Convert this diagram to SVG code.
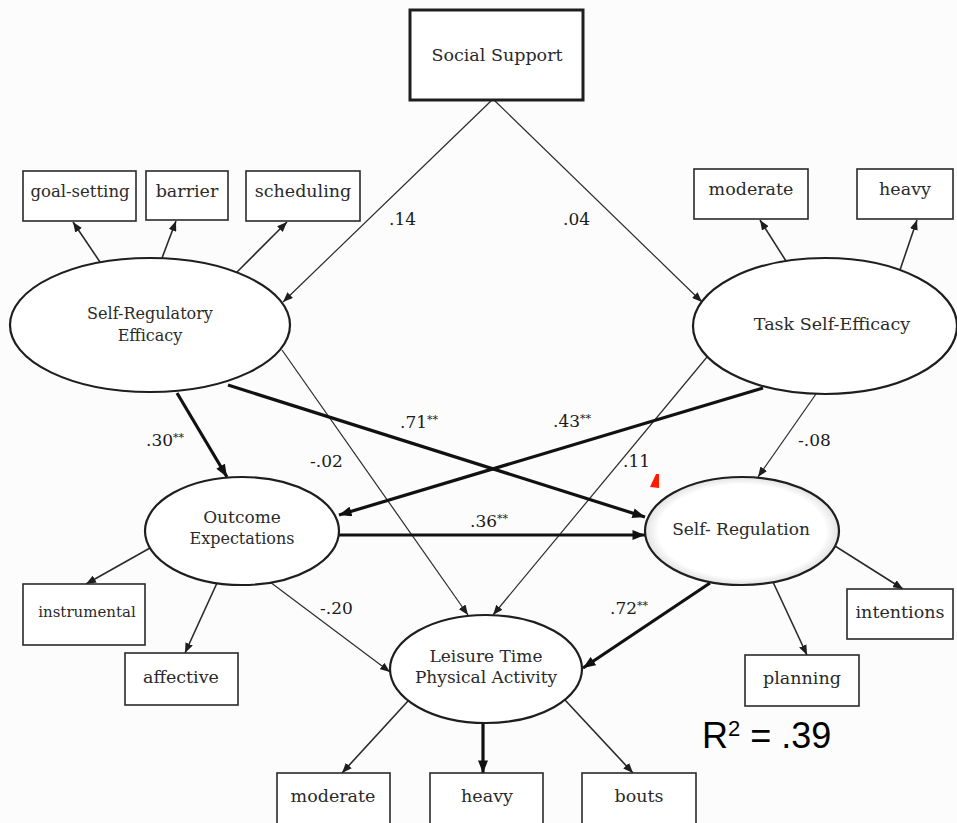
<svg xmlns="http://www.w3.org/2000/svg" width="957" height="823" viewBox="0 0 957 823">
<style>
  .box { fill: #ffffff; stroke: #2a2a2a; stroke-width: 1.6; }
  .ell { fill: #ffffff; stroke: #1e1e1e; stroke-width: 2.2; }
  .t { font-family: "DejaVu Serif", "Liberation Serif", serif; font-size: 17.5px; fill: #2a2a2a; text-anchor: middle; }
  .lbl { font-family: "DejaVu Serif", "Liberation Serif", serif; font-size: 17px; fill: #1a1a1a; }
  .thin { stroke: #2a2a2a; stroke-width: 1.2; fill: none; marker-end: url(#ah); }
  .ind { stroke: #2a2a2a; stroke-width: 1.6; fill: none; marker-end: url(#ah); }
  .thick { stroke: #111111; stroke-width: 3.2; fill: none; marker-end: url(#ahk); }
  .r2 { font-family: "Liberation Sans", Arial, sans-serif; font-size: 36px; fill: #000000; }
</style>
<defs>
  <marker id="ah" viewBox="0 0 10 8" refX="10" refY="4" markerWidth="10" markerHeight="8" markerUnits="userSpaceOnUse" orient="auto">
    <path d="M0,0 L10,4 L0,8 z" fill="#1e1e1e"/>
  </marker>
  <marker id="ahk" viewBox="0 0 10 8" refX="10" refY="4" markerWidth="13" markerHeight="10" markerUnits="userSpaceOnUse" orient="auto">
    <path d="M0,0 L10,4 L0,8 z" fill="#111111"/>
  </marker>
  <radialGradient id="srg" cx="0.5" cy="0.5" r="0.5">
    <stop offset="0.86" stop-color="#ffffff"/>
    <stop offset="1" stop-color="#e2e2e2"/>
  </radialGradient>
</defs>
<rect x="0" y="0" width="957" height="823" fill="#fcfcfc"/>

<g id="connectors">
  <line class="thin" x1="492" y1="100" x2="283" y2="302"/>
  <line class="thin" x1="494" y1="100" x2="702" y2="302"/>
  <line class="ind" x1="100" y1="262" x2="73" y2="222"/>
  <line class="ind" x1="162" y1="258" x2="176" y2="221"/>
  <line class="ind" x1="237" y1="272" x2="287" y2="222"/>
  <line class="ind" x1="786" y1="261" x2="760" y2="220"/>
  <line class="ind" x1="900" y1="270" x2="917" y2="220"/>
  <line class="thin" x1="282" y1="350" x2="468" y2="615"/>
  <line class="thin" x1="707" y1="357" x2="493" y2="615"/>
  <line class="thick" x1="228" y1="385" x2="645" y2="517"/>
  <line class="thick" x1="763" y1="388" x2="339" y2="515"/>
  <line class="thick" x1="177" y1="393" x2="227" y2="477"/>
  <line class="thin" x1="816" y1="394" x2="758" y2="477"/>
  <line class="thick" x1="339" y1="535" x2="645" y2="535"/>
  <line class="thick" x1="710" y1="583" x2="583" y2="668"/>
  <line class="thin" x1="270" y1="582" x2="390" y2="672"/>
  <line class="ind" x1="150" y1="548" x2="86" y2="584"/>
  <line class="ind" x1="217" y1="583" x2="185" y2="653"/>
  <line class="ind" x1="408" y1="701" x2="342" y2="773"/>
  <line class="thick" x1="483" y1="723" x2="483" y2="773"/>
  <line class="ind" x1="565" y1="700" x2="633" y2="773"/>
  <line class="ind" x1="835" y1="546" x2="903" y2="589"/>
  <line class="ind" x1="773" y1="582" x2="807" y2="655"/>
</g>

<g id="labels">
  <text class="lbl" x="389" y="225">.14</text>
  <text class="lbl" x="563" y="225">.04</text>
  <text class="lbl" x="146" y="446">.30<tspan font-size="11" dy="-5">**</tspan></text>
  <text class="lbl" x="310" y="467">-.02</text>
  <text class="lbl" x="400" y="428">.71<tspan font-size="11" dy="-5">**</tspan></text>
  <text class="lbl" x="553" y="427">.43<tspan font-size="11" dy="-5">**</tspan></text>
  <text class="lbl" x="623" y="467">.11</text>
  <text class="lbl" x="798" y="446">-.08</text>
  <text class="lbl" x="470" y="527">.36<tspan font-size="11" dy="-5">**</tspan></text>
  <text class="lbl" x="320" y="614">-.20</text>
  <text class="lbl" x="610" y="614">.72<tspan font-size="11" dy="-5">**</tspan></text>
</g>

<g id="social-support">
  <rect x="410" y="10" width="173" height="90" fill="#ffffff" stroke="#1e1e1e" stroke-width="3"/>
  <text class="t" x="497" y="61">Social  Support</text>
</g>

<g id="goal-setting">
  <rect class="box" x="23" y="171" width="113" height="50"/>
  <text class="t" x="80" y="197" style="font-size:16.5px">goal-setting</text>
</g>
<g id="barrier">
  <rect class="box" x="146" y="171" width="82" height="49"/>
  <text class="t" x="187" y="197">barrier</text>
</g>
<g id="scheduling">
  <rect class="box" x="246" y="171" width="114" height="50"/>
  <text class="t" x="303" y="197">scheduling</text>
</g>

<g id="moderate-task">
  <rect class="box" x="694" y="169" width="114" height="50"/>
  <text class="t" x="751" y="195">moderate</text>
</g>
<g id="heavy-task">
  <rect class="box" x="857" y="169" width="96" height="50"/>
  <text class="t" x="905" y="195">heavy</text>
</g>

<g id="self-regulatory-efficacy">
  <ellipse class="ell" cx="150" cy="325" rx="140" ry="67"/>
  <text class="t" x="150" y="319" style="font-size:16px">Self-Regulatory</text>
  <text class="t" x="150" y="341" style="font-size:16px">Efficacy</text>
</g>

<g id="task-self-efficacy">
  <ellipse class="ell" cx="825" cy="326" rx="132" ry="68"/>
  <text class="t" x="832" y="330">Task Self-Efficacy</text>
</g>

<g id="outcome-expectations">
  <ellipse class="ell" cx="242" cy="531" rx="97" ry="54"/>
  <text class="t" x="242" y="523" style="font-size:17px">Outcome</text>
  <text class="t" x="242" y="544" style="font-size:16px">Expectations</text>
</g>

<g id="self-regulation">
  <ellipse cx="742" cy="531" rx="97" ry="54" fill="url(#srg)" stroke="#1e1e1e" stroke-width="2.2"/>
  <text class="t" x="741" y="535" style="font-size:17px">Self- Regulation</text>
</g>

<g id="leisure-time-pa">
  <ellipse class="ell" cx="486" cy="669" rx="96" ry="54"/>
  <text class="t" x="486" y="662" style="font-size:17px">Leisure Time</text>
  <text class="t" x="486" y="683" style="font-size:17px">Physical Activity</text>
</g>

<g id="instrumental">
  <rect class="box" x="23" y="584" width="122" height="61"/>
  <text class="t" x="87" y="617" style="font-size:15px">instrumental</text>
</g>
<g id="affective">
  <rect class="box" x="125" y="653" width="113" height="52"/>
  <text class="t" x="181" y="683">affective</text>
</g>
<g id="moderate-lt">
  <rect class="box" x="277" y="773" width="113" height="52"/>
  <text class="t" x="333" y="802">moderate</text>
</g>
<g id="heavy-lt">
  <rect class="box" x="430" y="773" width="113" height="52"/>
  <text class="t" x="487" y="802">heavy</text>
</g>
<g id="bouts">
  <rect class="box" x="582" y="773" width="114" height="52"/>
  <text class="t" x="639" y="802">bouts</text>
</g>
<g id="planning">
  <rect class="box" x="745" y="655" width="114" height="51"/>
  <text class="t" x="802" y="684">planning</text>
</g>
<g id="intentions">
  <rect class="box" x="847" y="589" width="106" height="50"/>
  <text class="t" x="900" y="618">intentions</text>
</g>

<polygon points="656,474 659,474 659,488 650,487" fill="#ff1a00"/>

<text class="r2" x="702" y="748">R<tspan font-size="22" dy="-12">2</tspan><tspan dy="12"> = .39</tspan></text>
</svg>
